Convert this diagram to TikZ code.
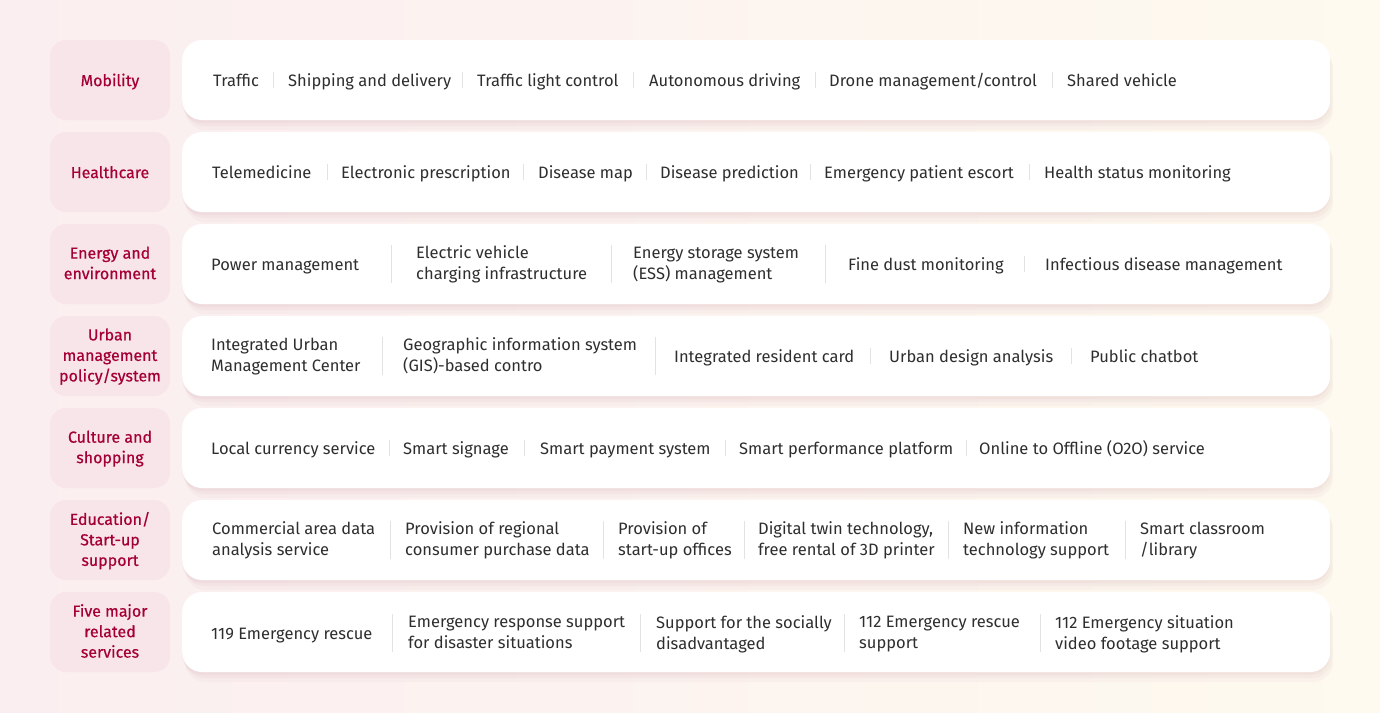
\documentclass[tikz,border=0pt]{standalone}
\usepackage{fontspec}
\setmainfont{Fira Sans}
\newfontfamily\tagfont[FakeBold=0.5]{Fira Sans}
\usetikzlibrary{shadows}

\definecolor{lgred}{HTML}{A50034}
\definecolor{tagfill}{HTML}{F8E5E9}
\definecolor{itemtext}{HTML}{2E2E2E}
\definecolor{divline}{HTML}{E2E2E2}
\definecolor{bgpink}{HTML}{FBEEF0}
\definecolor{bgcream}{HTML}{FEFAEF}
\definecolor{shadowc}{HTML}{C48F9B}

\tikzset{
 tag/.style={fill=tagfill, rounded corners=16pt, minimum width=120pt, minimum height=80pt, inner sep=0pt},
 taglabel/.style={text=lgred, align=center, inner sep=0pt, font=\tagfont\fontsize{16}{20.5}\selectfont,
  execute at begin node=\strut, execute at end node=\strut},
 card/.style={fill=white, rounded corners=20pt, minimum width=1148pt, minimum height=80pt,
  inner sep=0pt, anchor=west,
  general shadow={fill=shadowc, opacity=.08, shadow yshift=-3pt},
  general shadow={fill=shadowc, opacity=.07, shadow yshift=-6pt, shadow xshift=2pt},
  general shadow={fill=shadowc, opacity=.06, shadow yshift=-10pt, shadow xshift=3pt}},
 item/.style={anchor=west, inner sep=0pt, text=itemtext, align=left, font=\fontsize{16.5}{21}\selectfont,
  execute at begin node=\strut, execute at end node=\strut},
 divider/.style={draw=divline, line width=1pt}
}

\begin{document}
\begin{tikzpicture}[x=1pt, y=-1pt]
 \useasboundingbox (0,0) rectangle (1380,712);
 \shade[left color=bgpink, right color=bgcream] (0,0) rectangle (1380,712);

 % Zeilen: Kategorie links, weisse Karte rechts
 \foreach \r/\y/\name in {1/80/Mobility, 2/172/Healthcare, 3/264/{Energy and\\environment},
   4/356/{Urban\\management\\policy/system}, 5/448/{Culture and\\shopping},
   6/540/{Education/\\Start-up\\support}, 7/632/{Five major\\related\\services}}{
  \node[card] (card\r) at (182,\y) {};
  \node[tag] (tag\r) at (110,\y) {};
  \node[taglabel] (lbl\r) at (110,\y+2) {\name};
 }

 % Mobility
 \foreach \x/\txt [count=\k] in {213/Traffic, 288/Shipping and delivery, 477/Traffic light control,
   649/Autonomous driving, 829/{Drone management/control}, 1067/Shared vehicle}
  \node[item] (mob\k) at (\x,82) {\txt};
 \foreach \x in {273,462,633,815,1052} \draw[divider] (\x,72) -- (\x,88);

 % Healthcare
 \foreach \x/\txt [count=\k] in {212/Telemedicine, 341/Electronic prescription, 538/Disease map,
   660/Disease prediction, 824/Emergency patient escort, 1044/Health status monitoring}
  \node[item] (hc\k) at (\x,174) {\txt};
 \foreach \x in {327,523,646,810,1029} \draw[divider] (\x,164) -- (\x,180);

 % Energy and environment
 \foreach \x/\txt [count=\k] in {211/Power management, 416/{Electric vehicle\\charging infrastructure},
   633/{Energy storage system\\(ESS) management}, 848/Fine dust monitoring, 1045/Infectious disease management}
  \node[item] (en\k) at (\x,266) {\txt};
 \foreach \x in {391,611,825} \draw[divider] (\x,245) -- (\x,283);
 \draw[divider] (1024,256) -- (1024,272);

 % Urban management
 \foreach \x/\txt [count=\k] in {211/{Integrated Urban\\Management Center},
   403/{Geographic information system\\(GIS)-based contro}, 674/Integrated resident card,
   889/Urban design analysis, 1090/Public chatbot}
  \node[item] (urb\k) at (\x,358) {\txt};
 \foreach \x in {382,655} \draw[divider] (\x,337) -- (\x,375);
 \foreach \x in {870,1071} \draw[divider] (\x,348) -- (\x,364);

 % Culture and shopping
 \foreach \x/\txt [count=\k] in {211/Local currency service, 403/Smart signage, 540/Smart payment system,
   739/Smart performance platform, 979/Online to Offline (O2O) service}
  \node[item] (cul\k) at (\x,450) {\txt};
 \foreach \x in {389,524,725,966} \draw[divider] (\x,440) -- (\x,456);

 % Education / start-up
 \foreach \x/\txt [count=\k] in {212/{Commercial area data\\analysis service},
   405/{Provision of regional\\consumer purchase data}, 618/{Provision of\\start-up offices},
   758/{Digital twin technology,\\free rental of 3D printer}, 963/{New information\\technology support},
   1140/{Smart classroom\\/library}}
  \node[item] (edu\k) at (\x,542) {\txt};
 \foreach \x in {390,603,744,948,1125} \draw[divider] (\x,521) -- (\x,559);

 % Five major services
 \foreach \x/\txt [count=\k] in {211/119 Emergency rescue, 408/{Emergency response support\\for disaster situations},
   656/{Support for the socially\\disadvantaged}, 859/{112 Emergency rescue\\support},
   1055/{112 Emergency situation\\video footage support}}
  \node[item] (five\k) at (\x,635.5) {\txt};
 \foreach \x in {392,640,844,1040} \draw[divider] (\x,614) -- (\x,652);
\end{tikzpicture}
\end{document}
